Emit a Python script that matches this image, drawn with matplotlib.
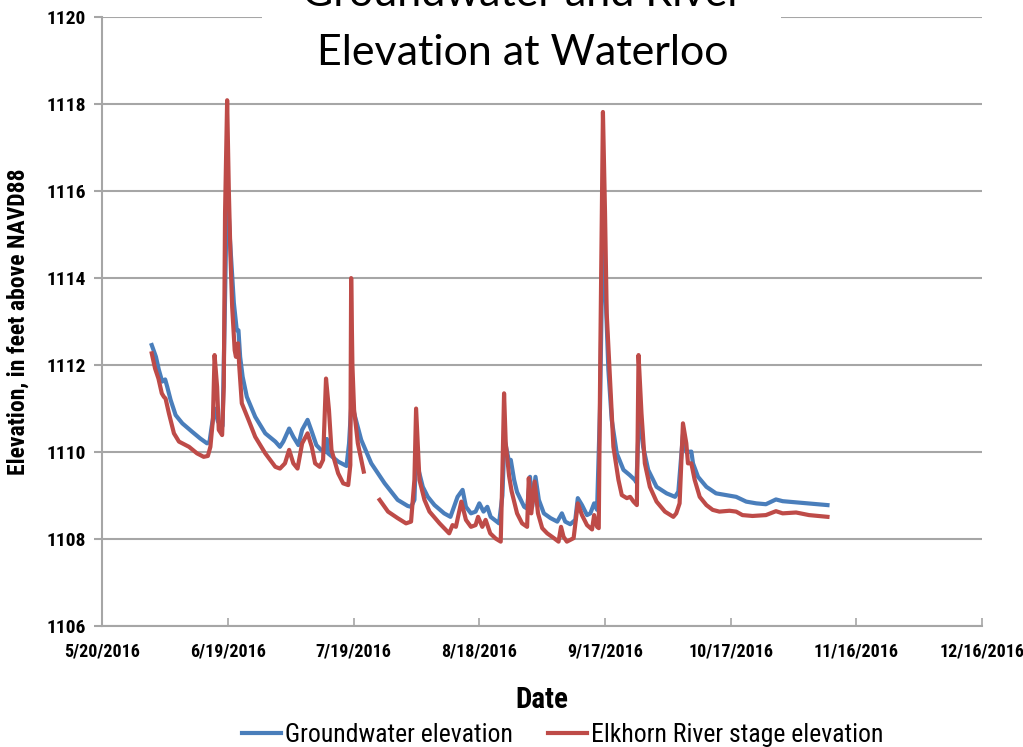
import numpy as np
import pandas as pd
import matplotlib
matplotlib.use("Agg")
import matplotlib.pyplot as plt
from matplotlib.patches import Rectangle

# days after 5/20/2016
gw_days = [11.8, 12.8, 13.5, 14.3, 15.0, 15.5, 16.3, 17.5, 19.1, 21.4, 23.4, 25.0, 25.6, 26.1,
           26.8, 27.6, 28.7, 29.2, 29.8, 30.4, 31.4, 32.1, 32.5, 32.9, 33.5, 34.5, 36.5, 38.9,
           41.3, 42.4, 43.2, 44.6, 45.6, 46.8, 47.7, 49.0, 50.0, 51.1, 52.2, 53.2, 53.6, 53.9,
           56.3, 58.3, 58.9, 59.5, 59.9, 61.8, 64.2, 67.4, 70.5, 72.9, 73.7, 74.5, 74.9, 75.3,
           76.5, 77.7, 79.3, 81.6, 83.1, 83.8, 84.8, 86.0, 86.8, 88.0, 89.1, 90.0, 91.0, 91.9,
           92.7, 94.7, 95.5, 96.0, 97.1, 97.5, 98.3, 99.0, 100.7, 101.4, 102.1, 102.6, 103.4,
           104.2, 105.4, 107.0, 108.6, 109.7, 110.5, 111.7, 112.9, 113.5, 114.5, 115.7, 116.5,
           117.4, 118.1, 118.8, 119.5, 120.2, 120.8, 121.6, 122.8, 124.4, 125.9, 127.1, 127.5,
           128.2, 129.1, 130.3, 132.3, 134.7, 136.7, 137.5, 138.6, 139.4, 140.6, 141.0, 142.2,
           144.2, 146.5, 148.9, 151.3, 153.7, 156.1, 158.4, 160.8, 162.4, 164.8, 168.7, 173.1]
gw_elev = [1112.46, 1112.19, 1111.89, 1111.62, 1111.67, 1111.50, 1111.20, 1110.85, 1110.66,
           1110.47, 1110.31, 1110.20, 1110.24, 1110.58, 1111.0, 1110.7, 1110.6, 1113.0, 1116.3,
           1115.0, 1113.43, 1112.8, 1112.8, 1112.19, 1111.73, 1111.27, 1110.81, 1110.43, 1110.24,
           1110.12, 1110.24, 1110.54, 1110.35, 1110.16, 1110.51, 1110.74, 1110.47, 1110.16,
           1110.05, 1110.0, 1110.3, 1109.97, 1109.78, 1109.68, 1110.2, 1111.2, 1110.97, 1110.28,
           1109.74, 1109.28, 1108.9, 1108.76, 1108.74, 1108.9, 1110.0, 1109.66, 1109.2, 1108.97,
           1108.78, 1108.59, 1108.51, 1108.7, 1108.97, 1109.13, 1108.74, 1108.59, 1108.63,
           1108.82, 1108.63, 1108.74, 1108.51, 1108.36, 1109.0, 1110.3, 1109.77, 1109.82,
           1109.36, 1109.08, 1108.74, 1108.7, 1109.43, 1108.74, 1109.43, 1108.9, 1108.59,
           1108.48, 1108.4, 1108.59, 1108.4, 1108.34, 1108.44, 1108.94, 1108.78, 1108.55,
           1108.59, 1108.82, 1108.67, 1111.0, 1115.3, 1113.5, 1111.89, 1110.74, 1109.97,
           1109.59, 1109.47, 1109.36, 1109.3, 1111.0, 1110.12, 1109.59, 1109.2, 1109.05,
           1108.97, 1109.09, 1110.4, 1110.0, 1110.01, 1109.74, 1109.43, 1109.2, 1109.05,
           1109.01, 1108.97, 1108.86, 1108.82, 1108.8, 1108.91, 1108.87, 1108.85, 1108.82, 1108.78]

river_days = [11.8, 12.6, 13.4, 14.2, 14.7, 15.1, 15.9, 17.1, 18.3, 20.7, 22.6, 24.2, 25.2, 25.8,
              26.4, 26.8, 27.4, 27.8, 28.6, 29.0, 29.3, 29.8, 30.2, 30.6, 31.0, 31.6, 31.9, 32.4,
              32.7, 33.3, 34.9, 36.5, 38.9, 41.3, 42.4, 43.6, 44.6, 45.6, 46.6, 47.7, 49.0, 50.0,
              50.8, 51.9, 52.7, 53.4, 54.1, 54.7, 56.3, 57.5, 58.7, 59.2, 59.4, 59.7, 60.1, 61.0,
              62.4, 64.0, 66.2, 68.2, 70.5, 72.5, 73.7, 74.5, 74.9, 75.7, 76.9, 78.1, 80.5, 82.8,
              83.6, 84.4, 85.7, 86.8, 88.0, 89.1, 89.7, 90.7, 91.5, 92.6, 93.9, 95.1, 95.5, 95.9,
              96.3, 97.1, 97.7, 99.0, 100.2, 101.4, 101.8, 102.4, 103.2, 104.0, 105.0, 106.2,
              107.8, 108.9, 109.5, 110.1, 110.9, 112.5, 113.5, 114.5, 115.7, 116.9, 117.4, 118.1,
              118.5, 118.9, 119.5, 120.0, 120.4, 121.2, 122.0, 123.2, 124.0, 125.2, 126.0, 126.8,
              127.6, 128.0, 128.7, 129.5, 130.7, 132.3, 134.3, 136.3, 137.0, 137.8, 138.6, 139.4,
              139.8, 140.6, 141.4, 142.6, 144.2, 145.7, 147.3, 149.7, 151.3, 152.8, 155.2, 158.4,
              160.8, 162.4, 165.6, 168.7, 173.1]
river_elev = [1112.27, 1111.92, 1111.69, 1111.35, 1111.27, 1111.23, 1110.89, 1110.43, 1110.24,
              1110.12, 1109.97, 1109.89, 1109.91, 1110.12, 1110.74, 1112.23, 1111.5, 1110.51,
              1110.39, 1111.5, 1115.5, 1118.09, 1116.02, 1114.49, 1113.34, 1112.34, 1112.19,
              1112.5, 1111.96, 1111.12, 1110.74, 1110.35, 1109.97, 1109.66, 1109.62, 1109.74,
              1110.05, 1109.74, 1109.62, 1110.2, 1110.43, 1110.12, 1109.74, 1109.66, 1109.82,
              1111.69, 1110.97, 1110.05, 1109.51, 1109.28, 1109.24, 1109.7, 1114.0, 1112.0,
              1110.97, 1110.2, 1109.55, np.nan, 1108.9, 1108.63, 1108.48, 1108.36, 1108.4,
              1109.36, 1111.0, 1109.36, 1108.9, 1108.63, 1108.36, 1108.13, 1108.32, 1108.28,
              1108.86, 1108.44, 1108.28, 1108.32, 1108.51, 1108.28, 1108.44, 1108.13, 1108.01,
              1107.94, 1109.5, 1111.35, 1110.2, 1109.45, 1109.1, 1108.59, 1108.36, 1108.28,
              1109.4, 1108.59, 1109.32, 1108.59, 1108.25, 1108.13, 1108.02, 1107.94, 1108.28,
              1108.05, 1107.94, 1108.02, 1108.82, 1108.55, 1108.32, 1108.22, 1108.55, 1108.28,
              1108.25, 1112.5, 1117.82, 1115.49, 1113.19, 1111.66, 1110.12, 1109.36, 1109.01,
              1108.94, 1108.97, 1108.86, 1108.78, 1112.23, 1110.89, 1109.74, 1109.2, 1108.86,
              1108.63, 1108.51, 1108.59, 1108.82, 1110.66, 1110.2, 1109.74, 1109.74, 1109.36,
              1108.97, 1108.78, 1108.67, 1108.63, 1108.65, 1108.63, 1108.55, 1108.53, 1108.55,
              1108.64, 1108.59, 1108.61, 1108.55, 1108.51]

tick_labels = ["5/20/2016", "6/19/2016", "7/19/2016", "8/18/2016",
               "9/17/2016", "10/17/2016", "11/16/2016", "12/16/2016"]
y_ticks = [1106, 1108, 1110, 1112, 1114, 1116, 1118, 1120]

start = pd.Timestamp("2016-05-20")
gw_x = start + pd.to_timedelta(gw_days, unit="D")
river_x = start + pd.to_timedelta(river_days, unit="D")
tick_x = pd.to_datetime(tick_labels, format="%m/%d/%Y")

narrow = ["Roboto Condensed", "Roboto", "DejaVu Sans"]
grid_c = "#a6a6a6"

fig = plt.figure(figsize=(10.23, 7.47), dpi=100)
ax = fig.add_axes([0.1, 0.162, 0.86, 0.815])

ax.plot(gw_x, gw_elev, color="#4a7ebb", lw=3.0, label="Groundwater elevation", zorder=3)
ax.plot(river_x, river_elev, color="#be4b48", lw=3.0, label="Elkhorn River stage elevation", zorder=4)

ax.set_ylim(1106, 1120)
ax.set_xlim(tick_x[0], tick_x[-1])
ax.set_yticks(y_ticks)
ax.set_xticks(tick_x)
ax.set_xticklabels(tick_labels)
ax.yaxis.grid(True, color=grid_c, lw=1.5)
ax.set_axisbelow(True)

for s in ["top", "right"]:
    ax.spines[s].set_visible(False)
for s in ["left", "bottom"]:
    ax.spines[s].set_color(grid_c)
    ax.spines[s].set_linewidth(1.5)

ax.tick_params(axis="x", direction="in", length=6, width=1.2, color=grid_c, pad=12)
ax.tick_params(axis="y", direction="out", length=6, width=1.5, color=grid_c, pad=6)
for lab in ax.get_xticklabels():
    lab.set_family(narrow)
    lab.set_fontsize(13)
    lab.set_fontweight("bold")
for lab in ax.get_yticklabels():
    lab.set_family(narrow)
    lab.set_fontsize(14)
    lab.set_fontweight("bold")

ax.set_ylabel("Elevation, in feet above NAVD88", family=narrow, fontsize=17,
              fontweight="bold", labelpad=12)
ax.set_xlabel("Date", family=narrow, fontsize=21, fontweight="bold", labelpad=18)

leg = ax.legend(loc="center", bbox_to_anchor=(0.55, 0.016), bbox_transform=fig.transFigure,
                ncol=2, frameon=False, handlelength=1.5, handletextpad=0.15,
                columnspacing=1.4, prop={"family": narrow, "size": 18.5})

# white box behind the title, cutting the top grid line
fig.patches.append(Rectangle((0.256, 0.9), 0.507, 0.1, transform=fig.transFigure,
                             facecolor="white", edgecolor="none", zorder=2))
fig.text(0.511, 0.992, "Groundwater and River", ha="center", va="baseline",
         fontsize=31, family="Lato", zorder=3)
fig.text(0.511, 0.913, "Elevation at Waterloo", ha="center", va="baseline",
         fontsize=31, family="Lato", zorder=3)

fig.savefig("out.png", dpi=100)
